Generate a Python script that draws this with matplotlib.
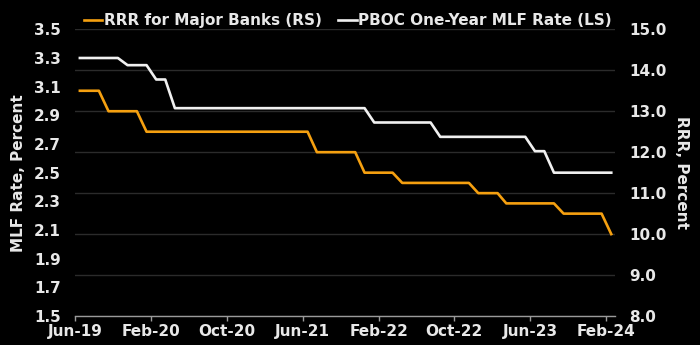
import matplotlib
matplotlib.use("Agg")
import matplotlib.pyplot as plt
import pandas as pd
import numpy as np

# Monthly data, Jun-2019 .. Feb-2024
months = pd.date_range("2019-06-01", "2024-02-01", freq="MS") + pd.Timedelta(days=16)

# PBOC one-year MLF rate (left scale), change points: (first month, value)
mlf_changes = [("2019-06", 3.30), ("2019-11", 3.25), ("2020-02", 3.15), ("2020-04", 2.95),
               ("2022-01", 2.85), ("2022-08", 2.75), ("2023-06", 2.65), ("2023-08", 2.50)]
# RRR for major banks (right scale)
rrr_changes = [("2019-06", 13.5), ("2019-09", 13.0), ("2020-01", 12.5), ("2021-07", 12.0),
               ("2021-12", 11.5), ("2022-04", 11.25), ("2022-12", 11.0), ("2023-03", 10.75),
               ("2023-09", 10.5), ("2024-02", 10.0)]

def expand(changes):
    s = pd.Series(np.nan, index=pd.period_range("2019-06", "2024-02", freq="M"))
    for m, v in changes:
        s[pd.Period(m, "M")] = v
    return s.ffill().values

mlf = expand(mlf_changes)
rrr = expand(rrr_changes)

tick_labels = ["Jun-19", "Feb-20", "Oct-20", "Jun-21", "Feb-22", "Oct-22", "Jun-23", "Feb-24"]
tick_dates = pd.to_datetime(["2019-06-01", "2020-02-01", "2020-10-01", "2021-06-01",
                             "2022-02-01", "2022-10-01", "2023-06-01", "2024-02-01"])

BG = "black"
TXT = "#e8e8e8"
ORANGE = "#f5a010"
WHITE = "#f0f0f0"
GRID = "#2b2b2b"

plt.rcParams['font.family'] = ['DejaVu Sans']
fig = plt.figure(figsize=(7.0, 3.45), dpi=100, facecolor=BG)
ax = fig.add_axes([0.107, 0.084, 0.772, 0.831], facecolor=BG)
ax2 = ax.twinx()

l1, = ax.plot(months, mlf, color=WHITE, lw=1.9, label="PBOC One-Year MLF Rate (LS)")
l2, = ax2.plot(months, rrr, color=ORANGE, lw=1.9, label="RRR for Major Banks (RS)")

ax.set_ylim(1.5, 3.5)
ax.set_yticks(np.arange(1.5, 3.51, 0.2))
ax.set_yticklabels([f"{v:.1f}" for v in np.arange(1.5, 3.51, 0.2)])
ax2.set_ylim(8, 15)
ax2.set_yticks(np.arange(8, 15.1, 1))
ax2.set_yticklabels([f"{v:.1f}" for v in np.arange(8, 15.1, 1)])

ax.set_xlim(pd.Timestamp("2019-06-01"), pd.Timestamp("2024-03-01"))
ax.set_xticks(tick_dates)
ax.set_xticklabels(tick_labels)

ax2.grid(axis='y', color=GRID, lw=1.0)
ax2.set_axisbelow(True)
ax.set_zorder(ax2.get_zorder() + 1)
ax.patch.set_visible(False)

for a in (ax, ax2):
    for s in a.spines.values():
        s.set_visible(False)
ax.spines['bottom'].set_visible(True)
ax.spines['bottom'].set_color("#9a9a9a")
ax.spines['bottom'].set_linewidth(1.0)

fs = 11
ax.tick_params(axis='x', colors="#9a9a9a", length=3.5, width=1.0, labelcolor=TXT, labelsize=fs, pad=2)
ax.tick_params(axis='y', length=0, labelcolor=TXT, labelsize=fs, pad=10)
ax2.tick_params(axis='y', length=0, labelcolor=TXT, labelsize=fs, pad=10)
for lab in ax.get_xticklabels() + ax.get_yticklabels() + ax2.get_yticklabels():
    lab.set_fontweight('bold')

ax.set_ylabel("MLF Rate, Percent", color=TXT, fontsize=fs, fontweight='bold', labelpad=6)
ax2.set_ylabel("RRR, Percent", color=TXT, fontsize=fs, fontweight='bold', rotation=270, labelpad=16)

leg = fig.legend(handles=[l2, l1], loc='center', bbox_to_anchor=(0.497, 0.94), ncol=2,
                 frameon=False, handlelength=1.2, handletextpad=0.1,
                 columnspacing=1.1, prop={'weight': 'bold', 'size': fs})
for t in leg.get_texts():
    t.set_color(TXT)

fig.savefig("out.png", dpi=100, facecolor=BG)
